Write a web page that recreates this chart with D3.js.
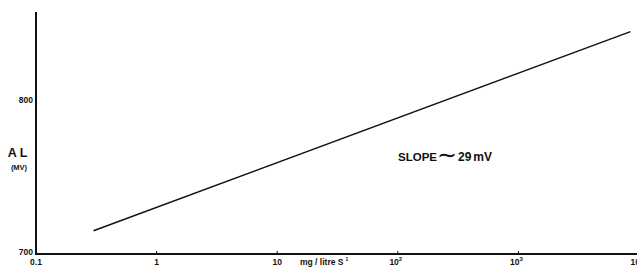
<!DOCTYPE html>
<html>
<head>
<meta charset="utf-8">
<script src="https://cdn.jsdelivr.net/npm/d3@7"></script>
<style>
  body { margin: 0; background: #fff; }
  svg { display: block; font-family: "Liberation Sans", Arial, sans-serif; }
</style>
</head>
<body>
<div id="chart"></div>
<script>
// data
const concentration = [0.3, 8500];        // mg / litre S
const potential = [714, 845];             // mV
const xTicks = [0.1, 1, 10, 100, 1000, 10000];
const xTickLabels = ["0.1", "1", "10", "10", "10", "10"];
const xTickSup = ["", "", "", "2", "3", "4"];
const yTicks = [700, 800];

const width = 637, height = 267;

const svg = d3.select("#chart").append("svg")
    .attr("width", width)
    .attr("height", height);

const x = d3.scaleLog().domain([0.1, 10000]).range([36, 639]);
const y = d3.scaleLinear().domain([700, 800]).range([252, 100]);

const axisY0 = 254;

// y axis line
svg.append("line")
    .attr("x1", 36).attr("x2", 36)
    .attr("y1", 12).attr("y2", axisY0)
    .attr("stroke", "#111").attr("stroke-width", 2);

// x axis line
svg.append("line")
    .attr("x1", 35).attr("x2", width)
    .attr("y1", axisY0).attr("y2", axisY0)
    .attr("stroke", "#111").attr("stroke-width", 2);

// y tick labels
svg.selectAll(".ylab")
    .data(yTicks)
    .enter().append("text")
    .attr("class", "ylab")
    .attr("x", 33)
    .attr("y", d => y(d) + 3)
    .attr("text-anchor", "end")
    .attr("font-size", "8.5px")
    .attr("font-weight", "bold")
    .attr("fill", "#111")
    .text(d => d);

// x tick marks
svg.selectAll(".xtick")
    .data(xTicks.slice(1))
    .enter().append("line")
    .attr("class", "xtick")
    .attr("x1", d => x(d)).attr("x2", d => x(d))
    .attr("y1", axisY0 - 3).attr("y2", axisY0)
    .attr("stroke", "#111").attr("stroke-width", 1);

// x tick labels
const xl = svg.selectAll(".xlab")
    .data(xTicks)
    .enter().append("text")
    .attr("class", "xlab")
    .attr("x", (d, i) => x(d) + (xTickSup[i] ? -2 : 0))
    .attr("y", 265)
    .attr("text-anchor", "middle")
    .attr("font-size", "8.5px")
    .attr("font-weight", "bold")
    .attr("fill", "#111");
xl.append("tspan").text((d, i) => xTickLabels[i]);
xl.append("tspan")
    .attr("dy", -4)
    .attr("font-size", "6px")
    .text((d, i) => xTickSup[i]);

// x axis title
const xt = svg.append("text")
    .attr("x", 300)
    .attr("y", 265)
    .attr("font-size", "8.5px")
    .attr("font-weight", "bold")
    .attr("fill", "#111");
xt.append("tspan").text("mg / litre S");
xt.append("tspan").attr("dy", -4).attr("dx", 2).attr("font-size", "5px").text("1");

// y axis title
svg.append("text")
    .attr("x", 19)
    .attr("y", 157)
    .attr("text-anchor", "middle")
    .attr("font-size", "12.5px")
    .attr("font-weight", "bold")
    .attr("letter-spacing", "3px")
    .attr("fill", "#111")
    .text("AL");

svg.append("text")
    .attr("x", 19)
    .attr("y", 170)
    .attr("text-anchor", "middle")
    .attr("font-size", "7.5px")
    .attr("font-weight", "bold")
    .attr("fill", "#111")
    .text("(MV)");

// the line
const line = d3.line()
    .x(d => x(d[0]))
    .y(d => y(d[1]));

svg.append("path")
    .datum(d3.zip(concentration, potential))
    .attr("d", line)
    .attr("fill", "none")
    .attr("stroke", "#111")
    .attr("stroke-width", 1.5);

// annotation
const ann = svg.append("text")
    .attr("x", 398)
    .attr("y", 161)
    .attr("font-size", "11.5px")
    .attr("font-weight", "bold")
    .attr("fill", "#111");
ann.append("tspan").text("SLOPE");
ann.append("tspan")
    .attr("dy", 2)
    .attr("font-size", "24px")
    .attr("font-weight", "normal")
    .text("\u223C");
ann.append("tspan")
    .attr("dx", 1)
    .attr("dy", -2)
    .attr("font-size", "12px")
    .text("29");
ann.append("tspan")
    .attr("dx", 2)
    .attr("font-size", "12px")
    .text("mV");
</script>
</body>
</html>
